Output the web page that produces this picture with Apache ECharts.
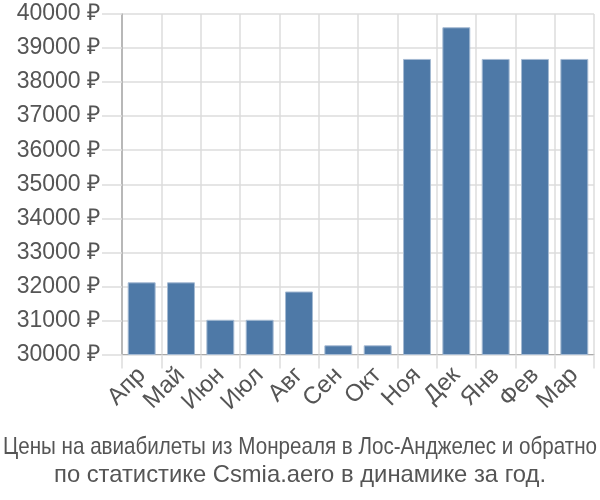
<!DOCTYPE html>
<html><head><meta charset="utf-8">
<script src="https://cdn.jsdelivr.net/npm/echarts@6/dist/echarts.min.js"></script>
<style>html,body{margin:0;padding:0;background:#fff}#c{width:600px;height:500px}</style>
</head><body><div id="c"></div>
<script>
const categories = ['Апр','Май','Июн','Июл','Авг','Сен','Окт','Ноя','Дек','Янв','Фев','Мар'];
const prices = [32120, 32120, 31020, 31020, 31850, 30270, 30270, 38680, 39610, 38680, 38680, 38680];
const titleLines = ['Цены на авиабилеты из Монреаля в Лос-Анджелес и обратно', 'по статистике Csmia.aero в динамике за год.'];
const yMin = 30000, yMax = 40000, yStep = 1000;

const titleFont = '24px "Liberation Sans"';
const titleWidths = [594, 492];
const titleMid = [447, 475];
const ctx = document.createElement('canvas').getContext('2d');
ctx.font = titleFont;
const titleGraphics = titleLines.map((t, i) => {
  const w = ctx.measureText(t).width;
  return {
    type:'text', x:300, y:titleMid[i], scaleX: titleWidths[i] / w, scaleY:1,
    style:{text:t, font:titleFont, fill:'#555', textAlign:'center', textVerticalAlign:'middle', x:0, y:0}
  };
});

const chart = echarts.init(document.getElementById('c'), null, {renderer:'canvas'});
chart.setOption({
  animation:false,
  graphic: titleGraphics,
  grid:{left:122, right:6, top:14, bottom:145.5},
  xAxis:{
    type:'category', data:categories,
    axisLine:{lineStyle:{color:'#aaa', width:1}},
    axisTick:{show:true, length:14, lineStyle:{color:'#ddd', width:1.5}},
    splitLine:{show:true, lineStyle:{color:'#ddd', width:1.5}},
    axisLabel:{rotate:45, fontFamily:'Liberation Sans', fontSize:24, color:'#555', margin:17, interval:0}
  },
  yAxis:{
    type:'value', min:yMin, max:yMax, interval:yStep,
    axisLine:{show:true, lineStyle:{color:'#aaa', width:1.5}},
    axisTick:{show:true, length:20, lineStyle:{color:'#ddd', width:1.5}},
    splitLine:{lineStyle:{color:'#ddd', width:1.5}},
    axisLabel:{formatter: v => v + ' ₽', fontFamily:'Liberation Sans', fontSize:23, color:'#555', margin:22}
  },
  series:[{
    type:'bar', data:prices, barWidth:'71%',
    itemStyle:{color:'#4e79a7', borderColor:'#a5bad3', borderWidth:1}
  }]
});
</script></body></html>
